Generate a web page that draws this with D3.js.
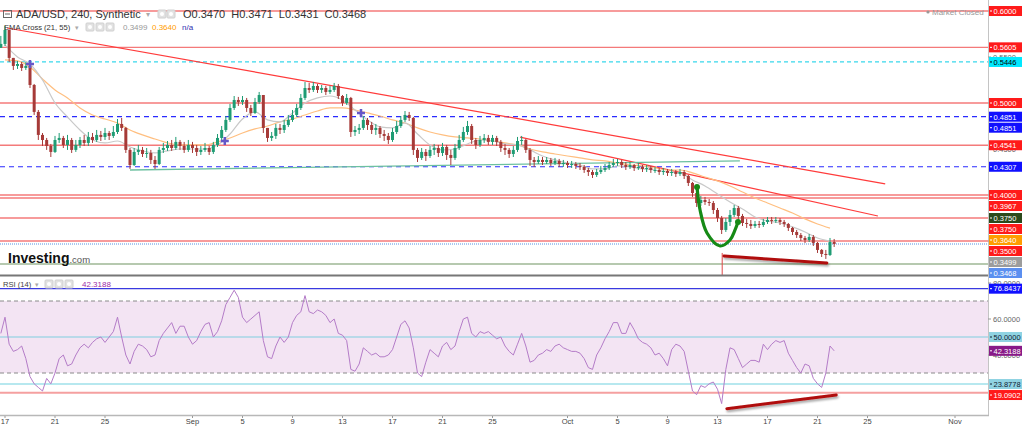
<!DOCTYPE html>
<html lang="en">
<head>
<meta charset="utf-8">
<title>ADA/USD, 240, Synthetic</title>
<script src="https://cdn.jsdelivr.net/npm/d3@7"></script>
<style>
  body { margin: 0; background: #fff; }
  svg { display: block; font-family: "Liberation Sans", Arial, sans-serif; }
</style>
</head>
<body>
<script>

// 8h candles starting 2018-08-16 16:00 UTC, open = previous close
var firstOpen = 0.5600;
var closes = [
  0.5642, 0.5794, 0.5490, 0.5403, 0.5424, 0.5381, 0.5403, 0.5196, 0.4903, 0.4653,
  0.4598, 0.4533, 0.4468, 0.4598, 0.4620, 0.4544, 0.4598, 0.4490, 0.4544, 0.4598,
  0.4566, 0.4631, 0.4598, 0.4653, 0.4631, 0.4674, 0.4642, 0.4685, 0.4772, 0.4729,
  0.4490, 0.4326, 0.4468, 0.4490, 0.4446, 0.4457, 0.4381, 0.4337, 0.4490, 0.4511,
  0.4544, 0.4511, 0.4577, 0.4533, 0.4490, 0.4544, 0.4511, 0.4468, 0.4490, 0.4511,
  0.4468, 0.4544, 0.4620, 0.4707, 0.4816, 0.4946, 0.5033, 0.5011, 0.5033, 0.4946,
  0.4892, 0.5011, 0.5087, 0.4729, 0.4620, 0.4642, 0.4729, 0.4707, 0.4761, 0.4816,
  0.4870, 0.4946, 0.5055, 0.5163, 0.5142, 0.5185, 0.5142, 0.5163, 0.5120, 0.5142,
  0.5185, 0.5076, 0.5000, 0.5055, 0.4685, 0.4707, 0.4729, 0.4816, 0.4761, 0.4707,
  0.4729, 0.4663, 0.4642, 0.4598, 0.4685, 0.4750, 0.4816, 0.4870, 0.4837, 0.4490,
  0.4403, 0.4468, 0.4424, 0.4490, 0.4511, 0.4457, 0.4522, 0.4435, 0.4403, 0.4511,
  0.4598, 0.4685, 0.4750, 0.4598, 0.4544, 0.4598, 0.4620, 0.4577, 0.4620, 0.4577,
  0.4511, 0.4490, 0.4446, 0.4490, 0.4587, 0.4598, 0.4490, 0.4381, 0.4359, 0.4381,
  0.4359, 0.4381, 0.4348, 0.4370, 0.4337, 0.4348, 0.4326, 0.4337, 0.4316, 0.4305,
  0.4272, 0.4250, 0.4218, 0.4250, 0.4272, 0.4294, 0.4326, 0.4348, 0.4359, 0.4326,
  0.4305, 0.4326, 0.4294, 0.4305, 0.4283, 0.4294, 0.4272, 0.4272, 0.4250, 0.4261,
  0.4240, 0.4250, 0.4229, 0.4250, 0.4207, 0.4131, 0.4022, 0.3913, 0.3946, 0.3924,
  0.3913, 0.3837, 0.3750, 0.3620, 0.3707, 0.3783, 0.3859, 0.3772, 0.3696, 0.3685,
  0.3663, 0.3685, 0.3674, 0.3707, 0.3729, 0.3718, 0.3729, 0.3707, 0.3685, 0.3642,
  0.3598, 0.3565, 0.3533, 0.3511, 0.3544, 0.3479, 0.3403, 0.3359, 0.3348, 0.3489, 0.3468
];
var highs = [
  0.5729, 0.5837, 0.5794, 0.5490, 0.5457, 0.5446, 0.5446, 0.5403, 0.5207, 0.4924,
  0.4674, 0.4620, 0.4555, 0.4642, 0.4674, 0.4642, 0.4653, 0.4620, 0.4598, 0.4631,
  0.4653, 0.4685, 0.4674, 0.4707, 0.4696, 0.4729, 0.4696, 0.4750, 0.4826, 0.4837,
  0.4740, 0.4511, 0.4511, 0.4544, 0.4522, 0.4511, 0.4490, 0.4424, 0.4522, 0.4566,
  0.4587, 0.4598, 0.4631, 0.4598, 0.4577, 0.4598, 0.4577, 0.4544, 0.4533, 0.4566,
  0.4533, 0.4577, 0.4663, 0.4750, 0.4859, 0.4990, 0.5076, 0.5066, 0.5076, 0.5055,
  0.4979, 0.5055, 0.5120, 0.5087, 0.4729, 0.4685, 0.4772, 0.4772, 0.4816, 0.4870,
  0.4924, 0.4990, 0.5098, 0.5229, 0.5218, 0.5229, 0.5207, 0.5196, 0.5185, 0.5185,
  0.5218, 0.5207, 0.5087, 0.5098, 0.5066, 0.4750, 0.4772, 0.4859, 0.4837, 0.4794,
  0.4772, 0.4750, 0.4707, 0.4674, 0.4729, 0.4805, 0.4859, 0.4913, 0.4903, 0.4848,
  0.4511, 0.4511, 0.4500, 0.4533, 0.4555, 0.4544, 0.4566, 0.4544, 0.4490, 0.4555,
  0.4653, 0.4740, 0.4805, 0.4772, 0.4620, 0.4642, 0.4663, 0.4653, 0.4653, 0.4642,
  0.4598, 0.4555, 0.4511, 0.4533, 0.4631, 0.4642, 0.4609, 0.4511, 0.4413, 0.4424,
  0.4413, 0.4413, 0.4403, 0.4403, 0.4392, 0.4381, 0.4370, 0.4370, 0.4359, 0.4348,
  0.4326, 0.4294, 0.4272, 0.4283, 0.4316, 0.4337, 0.4359, 0.4392, 0.4392, 0.4381,
  0.4359, 0.4359, 0.4337, 0.4348, 0.4326, 0.4326, 0.4316, 0.4305, 0.4294, 0.4294,
  0.4283, 0.4283, 0.4272, 0.4283, 0.4272, 0.4218, 0.4142, 0.4033, 0.3990, 0.3979,
  0.3957, 0.3935, 0.3859, 0.3772, 0.3750, 0.3837, 0.3892, 0.3881, 0.3794, 0.3740,
  0.3729, 0.3718, 0.3718, 0.3740, 0.3761, 0.3761, 0.3761, 0.3750, 0.3729, 0.3696,
  0.3653, 0.3620, 0.3587, 0.3555, 0.3576, 0.3565, 0.3489, 0.3413, 0.3403, 0.3533, 0.3522
];
var lows = [
  0.5609, 0.5620, 0.5446, 0.5359, 0.5370, 0.5348, 0.5359, 0.5163, 0.4870, 0.4598,
  0.4533, 0.4490, 0.4413, 0.4457, 0.4566, 0.4511, 0.4490, 0.4457, 0.4468, 0.4511,
  0.4533, 0.4533, 0.4566, 0.4577, 0.4587, 0.4598, 0.4598, 0.4620, 0.4663, 0.4696,
  0.4457, 0.4283, 0.4316, 0.4435, 0.4413, 0.4403, 0.4337, 0.4283, 0.4326, 0.4457,
  0.4479, 0.4479, 0.4490, 0.4490, 0.4457, 0.4468, 0.4457, 0.4424, 0.4435, 0.4468,
  0.4435, 0.4446, 0.4522, 0.4598, 0.4685, 0.4794, 0.4924, 0.4968, 0.4979, 0.4903,
  0.4859, 0.4881, 0.4990, 0.4674, 0.4577, 0.4587, 0.4609, 0.4663, 0.4674, 0.4740,
  0.4794, 0.4848, 0.4924, 0.5033, 0.5109, 0.5120, 0.5109, 0.5109, 0.5087, 0.5098,
  0.5120, 0.5044, 0.4968, 0.4979, 0.4631, 0.4642, 0.4663, 0.4707, 0.4707, 0.4663,
  0.4653, 0.4620, 0.4587, 0.4555, 0.4577, 0.4663, 0.4729, 0.4794, 0.4805, 0.4435,
  0.4359, 0.4381, 0.4370, 0.4403, 0.4435, 0.4413, 0.4424, 0.4381, 0.4326, 0.4381,
  0.4490, 0.4577, 0.4653, 0.4555, 0.4500, 0.4522, 0.4566, 0.4544, 0.4544, 0.4533,
  0.4468, 0.4435, 0.4403, 0.4413, 0.4468, 0.4544, 0.4457, 0.4316, 0.4305, 0.4337,
  0.4326, 0.4337, 0.4316, 0.4326, 0.4305, 0.4305, 0.4294, 0.4294, 0.4283, 0.4272,
  0.4240, 0.4207, 0.4185, 0.4196, 0.4229, 0.4250, 0.4272, 0.4305, 0.4316, 0.4294,
  0.4272, 0.4283, 0.4261, 0.4272, 0.4250, 0.4250, 0.4240, 0.4240, 0.4218, 0.4218,
  0.4207, 0.4207, 0.4196, 0.4207, 0.4174, 0.4098, 0.3979, 0.3870, 0.3881, 0.3892,
  0.3881, 0.3794, 0.3707, 0.3576, 0.3598, 0.3663, 0.3761, 0.3729, 0.3663, 0.3642,
  0.3631, 0.3642, 0.3642, 0.3653, 0.3685, 0.3685, 0.3696, 0.3674, 0.3653, 0.3609,
  0.3565, 0.3533, 0.3500, 0.3478, 0.3489, 0.3446, 0.3370, 0.3326, 0.3305, 0.3337, 0.3435
];
// RSI(14), one reading per candle
var rsi = [
  52, 61, 46, 42, 43, 45, 38, 28, 24, 22,
  20, 27, 24, 30, 38, 40, 34, 35, 40, 44,
  46, 44, 47, 49, 50, 47, 50, 53, 61, 50,
  40, 35, 42, 46, 45, 43, 39, 40, 48, 52,
  55, 58, 52, 56, 56, 50, 46, 48, 53, 57,
  58, 50, 53, 59, 68, 72, 76, 72, 61, 58,
  60, 62, 64, 48, 39, 38, 45, 50, 47, 50,
  58, 62, 64, 73, 64, 63, 65, 64, 62, 58,
  60, 52, 51, 48, 32, 31, 35, 44, 42, 40,
  41, 39, 39, 40, 43, 50, 57, 59, 55, 44,
  30, 28, 36, 43, 41, 39, 45, 47, 43, 45,
  53, 60, 61, 52, 50, 53, 52, 53, 51, 49,
  50, 45, 42, 40, 46, 52, 45, 36, 37, 40,
  41, 43, 42, 45, 46, 44, 43, 42, 42, 41,
  38, 33, 32, 40, 44, 49, 53, 58, 58, 52,
  52, 58, 54, 49, 47, 46, 44, 40, 41, 38,
  34, 43, 46, 45, 42, 31, 20, 18, 23, 22,
  24, 25, 21, 13, 32, 44, 43, 38, 33, 35,
  37, 37, 36, 46, 43, 46, 48, 47, 48, 41,
  37, 33, 30, 35, 34, 27, 24, 22, 30, 45, 42.32
];
// EMA 21 / 55, one reading per day from 2018-08-17
var ema21 = [
  0.5631, 0.5500, 0.5424, 0.5250, 0.5000, 0.4848, 0.4707, 0.4598, 0.4566, 0.4587,
  0.4522, 0.4479, 0.4457, 0.4479, 0.4500, 0.4500, 0.4500, 0.4544, 0.4663, 0.4826,
  0.4903, 0.4816, 0.4794, 0.4892, 0.5000, 0.5055, 0.5076, 0.5033, 0.4924, 0.4816,
  0.4740, 0.4729, 0.4783, 0.4663, 0.4544, 0.4490, 0.4500, 0.4555, 0.4598, 0.4587,
  0.4555, 0.4544, 0.4490, 0.4424, 0.4381, 0.4348, 0.4326, 0.4283, 0.4283, 0.4316,
  0.4305, 0.4283, 0.4272, 0.4250, 0.4240, 0.4163, 0.4098, 0.4011, 0.3924, 0.3848,
  0.3761, 0.3718, 0.3696, 0.3653, 0.3598, 0.3533, 0.3499
];
var ema55 = [
  0.5468, 0.5457, 0.5392, 0.5261, 0.5142, 0.5055, 0.4946, 0.4870, 0.4826, 0.4783,
  0.4707, 0.4653, 0.4609, 0.4566, 0.4544, 0.4544, 0.4544, 0.4577, 0.4620, 0.4674,
  0.4718, 0.4750, 0.4794, 0.4826, 0.4870, 0.4913, 0.4946, 0.4946, 0.4924, 0.4892,
  0.4859, 0.4816, 0.4783, 0.4729, 0.4685, 0.4653, 0.4631, 0.4620, 0.4609, 0.4587,
  0.4566, 0.4544, 0.4500, 0.4468, 0.4446, 0.4424, 0.4403, 0.4381, 0.4370, 0.4348,
  0.4326, 0.4316, 0.4294, 0.4272, 0.4272, 0.4240, 0.4196, 0.4153, 0.4098, 0.4033,
  0.3968, 0.3913, 0.3859, 0.3805, 0.3740, 0.3685, 0.3640
];
// EMA cross markers
var crossTimes = ["2018-08-19T00:00Z", "2018-09-03T14:00Z", "2018-09-14T11:30Z"];
var crossPrices = [0.5424, 0.4587, 0.4891];

// horizontal levels
var resLevels = [0.6000, 0.5605, 0.5000, 0.4541, 0.4000, 0.3967, 0.3750, 0.3500];
var blueLevels = [0.4851, 0.4307];
var cyanLevel = 0.5446;
var greenLevel = 0.3250;
var lastPrice = 0.3468;

// drawn trend lines [time, price]
var trendA = [["2018-08-17T04:00Z", 0.5815], ["2018-10-26T10:00Z", 0.4120]];
var trendB = [["2018-09-27T05:00Z", 0.4630], ["2018-10-25T20:00Z", 0.3772]];
var trendGreen = [["2018-08-27T00:00Z", 0.4272], ["2018-10-14T19:00Z", 0.4370]];
var divPrice = [["2018-10-13T12:30Z", 0.3337], ["2018-10-21T18:00Z", 0.3261]];
var divRsi = [["2018-10-13T18:00Z", 10.2], ["2018-10-22T12:00Z", 17.8]];
var lowMark = [["2018-10-13T09:00Z", 0.3370], ["2018-10-13T09:00Z", 0.3100]];
var cupPath = [
  ["2018-10-11T08:40Z", 0.4087], ["2018-10-11T14:30Z", 0.3837], ["2018-10-12T03:50Z", 0.3587],
  ["2018-10-13T04:50Z", 0.3446], ["2018-10-14T00:00Z", 0.3511], ["2018-10-14T09:40Z", 0.3620],
  ["2018-10-14T15:20Z", 0.3707]
];

// price tags on the right axis
var tagValues = [0.6000, 0.5605, 0.5446, 0.5000, 0.4851, 0.4851, 0.4541, 0.4307,
                 0.4000, 0.3967, 0.3750, 0.3750, 0.3640, 0.3500, 0.3499, 0.3468];
var tagKinds = ["res", "res", "cyan", "res", "blue", "blue", "res", "blue",
                "res", "res", "green", "res", "ema55", "res", "ema21", "last"];
var rsiTagValues = [76.8437, 50.0000, 42.3188, 23.8778, 19.0902];
var rsiTagKinds = ["blue", "lightblue", "rsi", "lightblue", "res"];

var priceTicks = [0.35, 0.40, 0.45, 0.50, 0.55, 0.60];
var rsiTicks = [40, 60, 80];
var dateTicks = ["2018-08-17", "2018-08-21", "2018-08-25", "2018-09-01", "2018-09-05", "2018-09-09",
                 "2018-09-13", "2018-09-17", "2018-09-21", "2018-09-25", "2018-10-01", "2018-10-05",
                 "2018-10-09", "2018-10-13", "2018-10-17", "2018-10-21", "2018-10-25", "2018-11-01"];

var tagStyle = {
  res:       { fill: "#ff1a1a", text: "#fff" },
  cyan:      { fill: "#00e8ff", text: "#000" },
  blue:      { fill: "#1010ff", text: "#fff" },
  green:     { fill: "#2c4a1c", text: "#fff" },
  ema55:     { fill: "#ff9c00", text: "#fff" },
  ema21:     { fill: "#9c9c9c", text: "#fff" },
  last:      { fill: "#5b8ff0", text: "#fff" },
  lightblue: { fill: "#8fd3e2", text: "#123" },
  rsi:       { fill: "#881a88", text: "#fff" }
};

//Width and height
var w = 1024;
var h = 428;
var plotRight = 988;
var mainBottom = 275;
var rsiTop = 277;
var rsiBottom = 415;

var parse = function(s) { return new Date(s); };
var t0 = Date.UTC(2018, 7, 16, 16);
var step = 8 * 3600 * 1000;
var day = 24 * 3600 * 1000;

var x = d3.scaleUtc()
  .domain([new Date(Date.UTC(2018, 7, 17)), new Date(Date.UTC(2018, 10, 1))])
  .range([5, 955]);
var y = d3.scaleLinear().domain([0.3, 0.6]).range([287, 11]);
var yR = d3.scaleLinear().domain([0, 100]).range([427, 247]);

var candles = closes.map(function(c, i) {
  var o = i === 0 ? firstOpen : closes[i - 1];
  return { t: new Date(t0 + i * step), o: o, c: c,
           h: Math.max(highs[i], o, c), l: Math.min(lows[i], o, c), r: rsi[i] };
});

var svg = d3.select("body").append("svg")
  .attr("width", w).attr("height", h);

svg.append("rect").attr("width", w).attr("height", h).attr("fill", "#fff");

var defs = svg.append("defs");
defs.append("clipPath").attr("id", "clipMain")
  .append("rect").attr("x", 0).attr("y", 0).attr("width", plotRight).attr("height", mainBottom);
defs.append("clipPath").attr("id", "clipRsi")
  .append("rect").attr("x", 0).attr("y", rsiTop).attr("width", plotRight).attr("height", rsiBottom - rsiTop);
var shadow = defs.append("filter").attr("id", "shadow").attr("x", "-10%").attr("y", "-200%")
  .attr("width", "120%").attr("height", "500%");
shadow.append("feDropShadow").attr("dx", 1).attr("dy", 2).attr("stdDeviation", 1.2)
  .attr("flood-color", "#000").attr("flood-opacity", 0.35);

var main = svg.append("g").attr("clip-path", "url(#clipMain)");
var low = svg.append("g").attr("clip-path", "url(#clipRsi)");

var hline = function(g, v, scale, color, width, dash) {
  g.append("line")
    .attr("x1", 0).attr("x2", plotRight)
    .attr("y1", scale(v)).attr("y2", scale(v))
    .attr("stroke", color).attr("stroke-width", width)
    .attr("stroke-dasharray", dash || null);
};

var seg = function(pts, scale) {
  return d3.line()
    .x(function(d) { return x(parse(d[0])); })
    .y(function(d) { return scale(d[1]); })(pts);
};

// horizontal levels
resLevels.forEach(function(v) { hline(main, v, y, "#f47a7a", 1.4); });
blueLevels.forEach(function(v) { hline(main, v, y, "#2a2aff", 1.2, "5,4"); });
hline(main, cyanLevel, y, "#38d8ec", 1.2, "4,3");
hline(main, greenLevel, y, "#6f9460", 1.2);
hline(main, lastPrice, y, "#a9c8f0", 2, "1,1");

// trend lines
main.append("path").attr("d", seg(trendA, y)).attr("stroke", "#ff3b3b").attr("stroke-width", 1.2).attr("fill", "none");
main.append("path").attr("d", seg(trendB, y)).attr("stroke", "#ff3b3b").attr("stroke-width", 1.2).attr("fill", "none");
main.append("path").attr("d", seg(trendGreen, y)).attr("stroke", "#6cc0a0").attr("stroke-width", 1.3).attr("fill", "none");

// EMA lines
var emaLine = d3.line()
  .x(function(d, i) { return x(new Date(Date.UTC(2018, 7, 17) + i * day)); })
  .y(function(d) { return y(d); })
  .curve(d3.curveMonotoneX);
main.append("path").attr("d", emaLine(ema55)).attr("stroke", "#ffbf80").attr("stroke-width", 1.2).attr("fill", "none");
main.append("path").attr("d", emaLine(ema21)).attr("stroke", "#c9c9c9").attr("stroke-width", 1.2).attr("fill", "none");

// candles
var up = "#1f9c74", down = "#a63a38";
var cg = main.append("g");
cg.selectAll("line.wick")
  .data(candles).enter().append("line")
  .attr("class", "wick")
  .attr("x1", function(d) { return x(d.t); })
  .attr("x2", function(d) { return x(d.t); })
  .attr("y1", function(d) { return y(d.h); })
  .attr("y2", function(d) { return y(d.l); })
  .attr("stroke", function(d) { return d.c >= d.o ? up : down; })
  .attr("stroke-width", 1);
cg.selectAll("rect.body")
  .data(candles).enter().append("rect")
  .attr("class", "body")
  .attr("x", function(d) { return x(d.t) - 1.5; })
  .attr("width", 3)
  .attr("y", function(d) { return y(Math.max(d.o, d.c)); })
  .attr("height", function(d) { return Math.max(1, Math.abs(y(d.o) - y(d.c))); })
  .attr("fill", function(d) { return d.c >= d.o ? up : down; });

// EMA cross markers
crossTimes.forEach(function(t, i) {
  var cx = x(parse(t)), cy = y(crossPrices[i]);
  main.append("path")
    .attr("d", "M" + (cx - 4) + "," + cy + "h8M" + cx + "," + (cy - 4) + "v8")
    .attr("stroke", "#6657c8").attr("stroke-width", 2.5);
});

// annotations
main.append("path").attr("d", seg(lowMark, y)).attr("stroke", "#e04848").attr("stroke-width", 1);
main.append("path").attr("d", seg(divPrice, y)).attr("stroke", "#b00c0c").attr("stroke-width", 3)
  .attr("stroke-linecap", "round").attr("filter", "url(#shadow)").attr("fill", "none");
var cup = d3.line()
  .x(function(d) { return x(parse(d[0])); })
  .y(function(d) { return y(d[1]); })
  .curve(d3.curveCatmullRom);
main.append("path").attr("d", cup(cupPath)).attr("stroke", "#168a16").attr("stroke-width", 3.2)
  .attr("fill", "none").attr("stroke-linecap", "round");
[cupPath[0], cupPath[cupPath.length - 1]].forEach(function(d) {
  main.append("circle").attr("cx", x(parse(d[0]))).attr("cy", y(d[1])).attr("r", 3).attr("fill", "#168a16");
});

// RSI panel
low.append("rect")
  .attr("x", 0).attr("width", plotRight)
  .attr("y", yR(70)).attr("height", yR(30) - yR(70))
  .attr("fill", "#f3e4f3");
hline(low, 70, yR, "#8a8a8a", 1, "4,3");
hline(low, 30, yR, "#8a8a8a", 1, "4,3");
hline(low, 76.8437, yR, "#3a3ae0", 1.2);
hline(low, 50, yR, "#a6d6e6", 1.5);
hline(low, 23.8778, yR, "#9fe0ea", 1.5);
hline(low, 19.0902, yR, "#f5a0a0", 2);
low.append("path")
  .datum(candles)
  .attr("d", d3.line().x(function(d) { return x(d.t); }).y(function(d) { return yR(d.r); }))
  .attr("stroke", "#b47cc8").attr("stroke-width", 1).attr("fill", "none");
low.append("path").attr("d", seg(divRsi, yR)).attr("stroke", "#b00c0c").attr("stroke-width", 3)
  .attr("stroke-linecap", "round").attr("filter", "url(#shadow)").attr("fill", "none");

// panel frame
svg.append("line").attr("x1", 0).attr("x2", plotRight).attr("y1", mainBottom + 0.5).attr("y2", mainBottom + 0.5)
  .attr("stroke", "#777").attr("stroke-width", 2);
svg.append("line").attr("x1", plotRight + 0.5).attr("x2", plotRight + 0.5).attr("y1", 0).attr("y2", rsiBottom)
  .attr("stroke", "#c4c4c4").attr("stroke-width", 1);
svg.append("line").attr("x1", 0).attr("x2", plotRight + 1).attr("y1", rsiBottom + 0.5).attr("y2", rsiBottom + 0.5)
  .attr("stroke", "#b8b8b8").attr("stroke-width", 1.5);

// right axis tick text (mostly hidden under tags)
var axisG = svg.append("g").attr("font-size", "7.5px").attr("fill", "#666");
priceTicks.forEach(function(v) {
  axisG.append("text").attr("x", 993).attr("y", y(v) + 3).text(d3.format(".4f")(v));
  axisG.append("line").attr("x1", plotRight).attr("x2", plotRight + 3).attr("y1", y(v)).attr("y2", y(v)).attr("stroke", "#999");
});
rsiTicks.forEach(function(v) {
  axisG.append("text").attr("x", 993).attr("y", yR(v) + 3).text(d3.format(".4f")(v));
  axisG.append("line").attr("x1", plotRight).attr("x2", plotRight + 3).attr("y1", yR(v)).attr("y2", yR(v)).attr("stroke", "#999");
});

// colored tags, pushed apart so they do not overlap
var drawTags = function(values, kinds, scale) {
  var items = values.map(function(v, i) { return { v: v, k: kinds[i], y: scale(v) }; })
    .sort(function(a, b) { return a.y - b.y; });
  for (var i = 1; i < items.length; i++) {
    if (items[i].y < items[i - 1].y + 11) items[i].y = items[i - 1].y + 11;
  }
  var g = svg.append("g").selectAll("g").data(items).enter().append("g")
    .attr("transform", function(d) { return "translate(" + (plotRight + 1) + "," + d.y + ")"; });
  g.append("rect").attr("x", 0).attr("y", -5).attr("width", 33).attr("height", 10)
    .attr("fill", function(d) { return tagStyle[d.k].fill; });
  g.append("line").attr("x1", 1).attr("x2", 3).attr("y1", 0).attr("y2", 0)
    .attr("stroke", function(d) { return tagStyle[d.k].text; });
  g.append("text").attr("x", 4.5).attr("y", 2.8).attr("font-size", "7.5px")
    .attr("fill", function(d) { return tagStyle[d.k].text; })
    .text(function(d) { return d3.format(".4f")(d.v); });
};
drawTags(tagValues, tagKinds, y);
drawTags(rsiTagValues, rsiTagKinds, yR);

// date axis
var fmtDay = d3.utcFormat("%-d"), fmtMon = d3.utcFormat("%b");
var xg = svg.append("g").attr("font-size", "7.5px").attr("fill", "#444").attr("text-anchor", "middle");
dateTicks.forEach(function(s) {
  var d = new Date(s + "T00:00Z");
  var xx = x(d);
  xg.append("line").attr("x1", xx).attr("x2", xx).attr("y1", rsiBottom + 1).attr("y2", rsiBottom + 3).attr("stroke", "#999");
  xg.append("text").attr("x", xx).attr("y", 424)
    .text(d.getUTCDate() === 1 ? fmtMon(d) : fmtDay(d));
});

// legends
var icon = function(cx, cy) {
  svg.append("rect").attr("x", cx).attr("y", cy).attr("width", 8).attr("height", 8)
    .attr("rx", 1).attr("fill", "#e2e2e2").attr("stroke", "#d0d0d0");
  svg.append("circle").attr("cx", cx + 4).attr("cy", cy + 4).attr("r", 2).attr("fill", "#fff");
};
svg.append("rect").attr("x", 3.5).attr("y", 10.5).attr("width", 8).attr("height", 7)
  .attr("fill", "none").attr("stroke", "#666");
svg.append("line").attr("x1", 5).attr("x2", 10).attr("y1", 14).attr("y2", 14).attr("stroke", "#666");
svg.append("text").attr("x", 16).attr("y", 18).attr("font-size", "11px").attr("fill", "#333")
  .text("ADA/USD, 240, Synthetic");
svg.append("text").attr("x", 146).attr("y", 17).attr("font-size", "8px").attr("fill", "#aaa").text("▾");
icon(158, 10); icon(167, 10);
var ohlc = svg.append("text").attr("x", 183).attr("y", 18).attr("font-size", "11px").attr("fill", "#333");
ohlc.append("tspan").text("O0.3470");
ohlc.append("tspan").attr("dx", 6).text("H0.3471");
ohlc.append("tspan").attr("dx", 6).text("L0.3431");
ohlc.append("tspan").attr("dx", 6).text("C0.3468");

svg.append("text").attr("x", 4).attr("y", 30).attr("font-size", "7.6px").attr("fill", "#333").text("EMA Cross (21, 55)");
svg.append("text").attr("x", 75).attr("y", 30).attr("font-size", "7px").attr("fill", "#aaa").text("▾");
icon(86, 23); icon(96, 23); icon(106, 23);
svg.append("text").attr("x", 123).attr("y", 30).attr("font-size", "8px").attr("fill", "#999").text("0.3499");
svg.append("text").attr("x", 152).attr("y", 30).attr("font-size", "8px").attr("fill", "#ff9c00").text("0.3640");
svg.append("text").attr("x", 182).attr("y", 30).attr("font-size", "8px").attr("fill", "#3030b0").text("n/a");

svg.append("text").attr("x", 3).attr("y", 287).attr("font-size", "7.6px").attr("fill", "#444").text("RSI (14)");
svg.append("text").attr("x", 35).attr("y", 287).attr("font-size", "7px").attr("fill", "#aaa").text("▾");
icon(45, 280); icon(55, 280); icon(65, 280);
svg.append("text").attr("x", 82).attr("y", 287).attr("font-size", "8px").attr("fill", "#9c2ca8").text("42.3188");

svg.append("circle").attr("cx", 928).attr("cy", 12).attr("r", 1.6).attr("fill", "#999");
svg.append("text").attr("x", 932).attr("y", 15).attr("font-size", "8px").attr("fill", "#999").text("Market Closed");

// watermark
var logo = svg.append("text").attr("x", 8).attr("y", 263);
logo.append("tspan").attr("font-size", "14px").attr("font-weight", "bold").attr("fill", "#111").text("Investing");
logo.append("tspan").attr("font-size", "9.5px").attr("fill", "#555").text(".com");

</script>
</body>
</html>
